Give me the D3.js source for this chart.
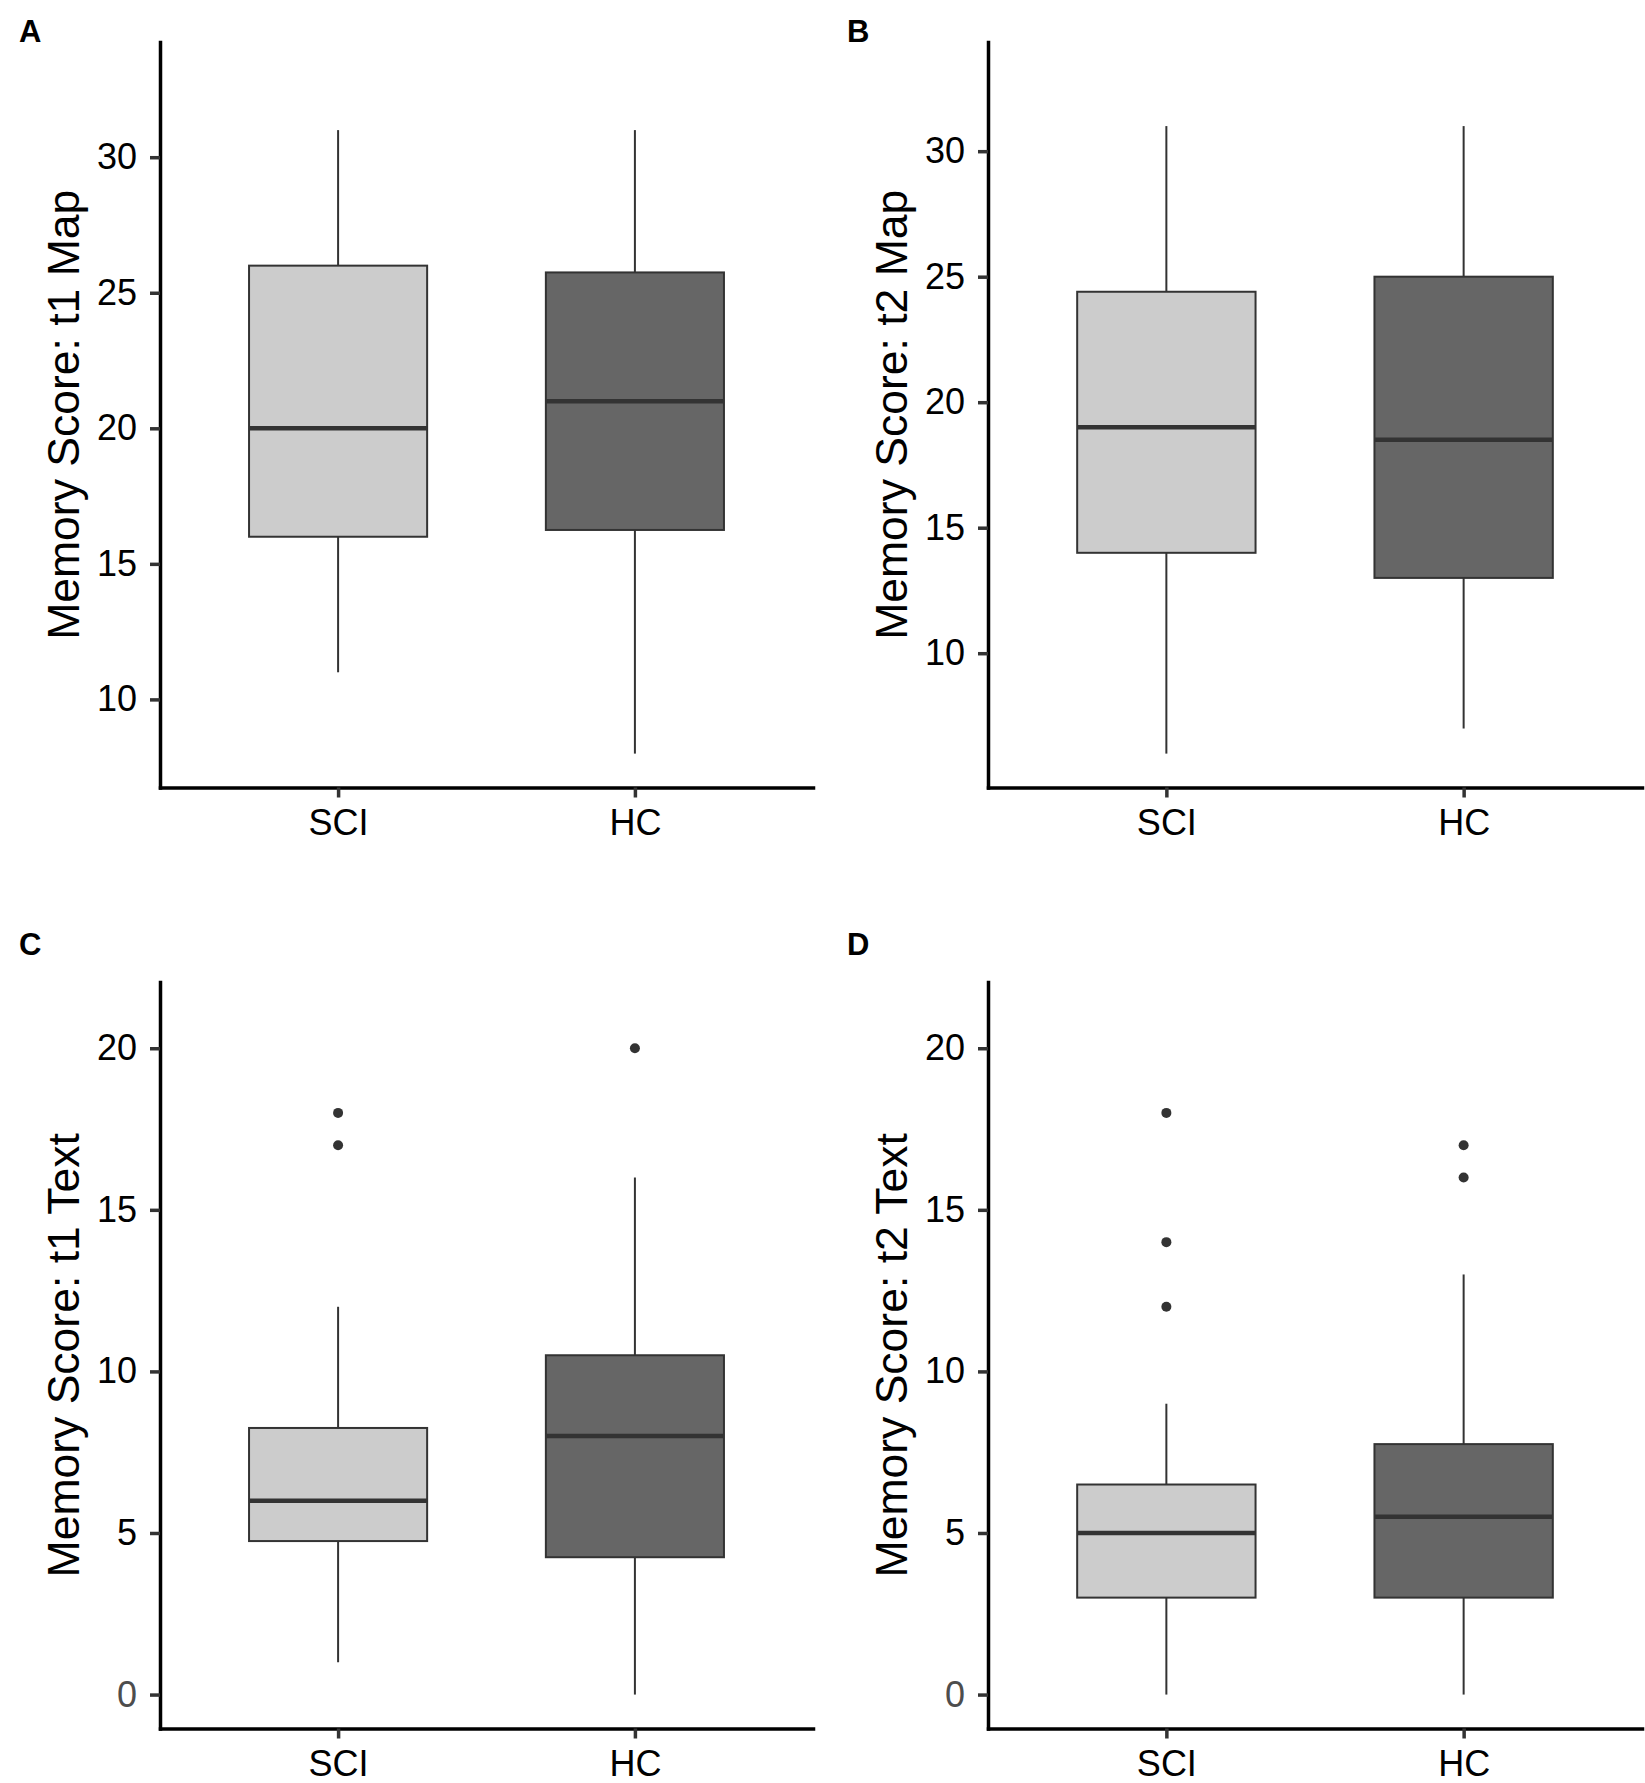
<!DOCTYPE html>
<html>
<head>
<meta charset="utf-8">
<script src="https://cdn.jsdelivr.net/npm/d3@7"></script>
<style>
  html, body { margin: 0; padding: 0; background: #fff; }
  svg { display: block; }
  text { font-family: "Liberation Sans", Arial, sans-serif; }
</style>
</head>
<body>
<svg></svg>
<script>
const groups = ["SCI", "HC"];
const panelLetters = ["A", "B", "C", "D"];
const yTitles = ["Memory Score: t1 Map", "Memory Score: t2 Map", "Memory Score: t1 Text", "Memory Score: t2 Text"];
const yDomains = [[6.75, 34.25], [4.65, 34.35], [-1.05, 22.05], [-1.05, 22.05]];
const yTicks = [[10, 15, 20, 25, 30], [10, 15, 20, 25, 30], [0, 5, 10, 15, 20], [0, 5, 10, 15, 20]];

// [lower whisker, Q1, median, Q3, upper whisker]
const sciStats = [[11, 16, 20, 26, 31], [6, 14, 19, 24.4, 31], [1, 4.75, 6, 8.25, 12], [0, 3, 5, 6.5, 9]];
const hcStats = [[8, 16.25, 21, 25.75, 31], [7, 13, 18.5, 25, 31], [0, 4.25, 8, 10.5, 16], [0, 3, 5.5, 7.75, 13]];
const sciOutliers = [[], [], [17, 18], [12, 14, 18]];
const hcOutliers = [[], [], [20], [16, 17]];

const fills = ["#cccccc", "#666666"];

const width = 1645;
const height = 1783;
const colLeft = [160, 988];
const colRight = [813, 1642];
const rowTop = [42, 982];
const rowBottom = [787.5, 1728.5];

const svg = d3.select("svg").attr("width", width).attr("height", height);

const drawPanel = (p) => {
    const col = p % 2;
    const row = Math.floor(p / 2);
    const left = colLeft[col], right = colRight[col];
    const top = rowTop[row], bottom = rowBottom[row];

    const x = d3.scalePoint().domain(groups).range([left, right]).padding(0.6);
    const y = d3.scaleLinear().domain(yDomains[p]).range([bottom, top]);
    const boxW = x.step() * 0.6;

    const g = svg.append("g");

    const stats = [sciStats[p], hcStats[p]];
    const outs = [sciOutliers[p], hcOutliers[p]];

    groups.forEach((grp, i) => {
        const s = stats[i];
        const cx = x(grp);
        // whiskers
        g.append("line")
            .attr("x1", cx).attr("x2", cx)
            .attr("y1", y(s[3])).attr("y2", y(s[4]))
            .attr("stroke", "#333").attr("stroke-width", 2);
        g.append("line")
            .attr("x1", cx).attr("x2", cx)
            .attr("y1", y(s[1])).attr("y2", y(s[0]))
            .attr("stroke", "#333").attr("stroke-width", 2);
        // box
        g.append("rect")
            .attr("x", cx - boxW / 2)
            .attr("y", y(s[3]))
            .attr("width", boxW)
            .attr("height", y(s[1]) - y(s[3]))
            .attr("fill", fills[i])
            .attr("stroke", "#333").attr("stroke-width", 2);
        // median
        g.append("line")
            .attr("x1", cx - boxW / 2).attr("x2", cx + boxW / 2)
            .attr("y1", y(s[2])).attr("y2", y(s[2]))
            .attr("stroke", "#333").attr("stroke-width", 4.5);
        // outliers
        g.selectAll(null)
            .data(outs[i])
            .enter()
            .append("circle")
            .attr("cx", cx)
            .attr("cy", d => y(d))
            .attr("r", 5)
            .attr("fill", "#333");
    });

    const yAxis = g.append("g")
        .attr("transform", "translate(" + left + ",0)")
        .call(d3.axisLeft(y).tickValues(yTicks[p]).tickSize(10).tickSizeOuter(0).tickPadding(13));

    const xAxis = g.append("g")
        .attr("transform", "translate(0," + bottom + ")")
        .call(d3.axisBottom(x).tickSize(10).tickSizeOuter(0).tickPadding(12));

    [yAxis, xAxis].forEach(ax => {
        ax.select(".domain").attr("stroke", "#000").attr("stroke-width", 3.5).attr("stroke-linecap", "square");
        ax.selectAll(".tick line").attr("stroke", "#333").attr("stroke-width", 3.5);
        ax.selectAll(".tick text")
            .attr("font-size", 36)
            .attr("font-family", "Liberation Sans, Arial, sans-serif")
            .attr("fill", d => d === 0 ? "#4d4d4d" : "#000");
    });
    xAxis.selectAll(".tick text").attr("dy", "0.7em");

    // y title
    g.append("text")
        .attr("transform", "translate(" + (left - 81.5) + "," + ((top + bottom) / 2) + ") rotate(-90)")
        .attr("text-anchor", "middle")
        .attr("font-size", 44.5)
        .attr("fill", "#000")
        .text(yTitles[p]);

    // panel letter
    svg.append("text")
        .attr("x", left - 141)
        .attr("y", top + (row === 0 ? 0 : -27))
        .attr("font-size", 31)
        .attr("font-weight", "bold")
        .attr("fill", "#000")
        .text(panelLetters[p]);
};

panelLetters.forEach((_, p) => drawPanel(p));
</script>
</body>
</html>
